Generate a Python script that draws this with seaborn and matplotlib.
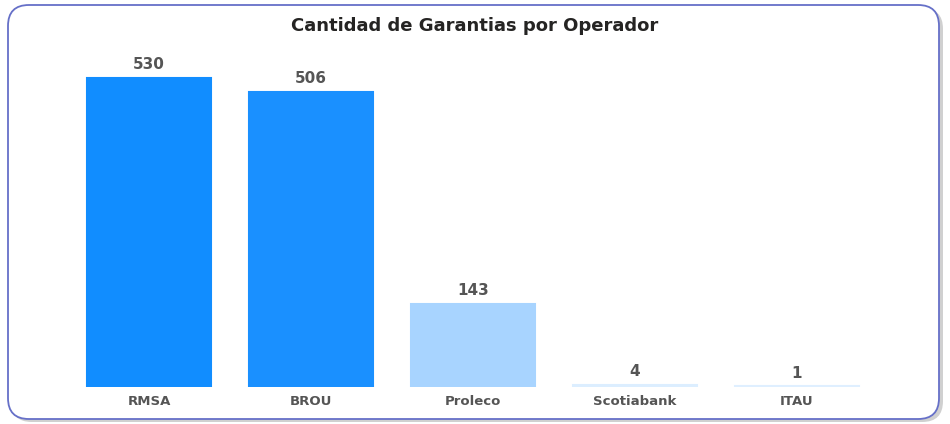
import matplotlib
matplotlib.use("Agg")
import matplotlib.pyplot as plt
import seaborn as sns
import pandas as pd
from matplotlib.patches import FancyBboxPatch

sns.set_theme(style="white")
plt.rcParams['font.family'] = ['DejaVu Sans']

# Data
operadores = ["RMSA", "BROU", "Proleco", "Scotiabank", "ITAU"]
garantias = [530, 506, 143, 4, 1]
colores = ["#118DFF", "#1A90FF", "#A8D4FF", "#DCEEFF", "#DFEFFF"]

df = pd.DataFrame({"operador": operadores, "garantias": garantias})

W, H = 950, 424
fig = plt.figure(figsize=(W / 100, H / 100), dpi=100)
fig.patch.set_facecolor("white")

# Card frame with a soft shadow
shadow = FancyBboxPatch((11 / W, 2 / H), 932 / W, 414 / H,
                        boxstyle="round,pad=0,rounding_size=0.022",
                        transform=fig.transFigure, facecolor="#D0D0D0",
                        edgecolor="none", zorder=0, mutation_aspect=W / H)
fig.patches.append(shadow)
card = FancyBboxPatch((8 / W, 5 / H), 931 / W, 414 / H,
                      boxstyle="round,pad=0,rounding_size=0.022",
                      transform=fig.transFigure, facecolor="white",
                      edgecolor="#6670C8", linewidth=1.3, zorder=1,
                      mutation_aspect=W / H)
fig.patches.append(card)

ax = fig.add_axes([68 / W, 37 / H, 810 / W, 350 / H])
ax.set_zorder(2)
ax.patch.set_alpha(0)

sns.barplot(data=df, x="operador", y="garantias", hue="operador",
            palette=colores, width=0.765, legend=False, ax=ax,
            saturation=1)

ax.set_xlim(-0.5, 4.5)
ax.set_ylim(0, 600)

for p, val, c in zip(ax.patches, garantias, colores):
    # thin outline in the same colour keeps the tiny bars visible
    p.set_edgecolor(c)
    p.set_linewidth(1.5)
    ax.annotate(f"{val}", (p.get_x() + p.get_width() / 2, p.get_height()),
                xytext=(0, 4), textcoords="offset points",
                ha="center", va="bottom", fontsize=11, fontweight="bold",
                color="#555555")

ax.set_xlabel("")
ax.set_ylabel("")
ax.set_yticks([])
ax.tick_params(axis="x", length=0, pad=6, labelsize=9.5, labelcolor="#555555")
for lbl in ax.get_xticklabels():
    lbl.set_fontweight("bold")
sns.despine(ax=ax, left=True, bottom=True)

fig.text(0.5, 1 - 26 / H, "Cantidad de Garantias por Operador",
         ha="center", va="center", fontsize=13, fontweight="bold",
         color="#252423", zorder=3)

fig.savefig("out.png", dpi=100)
